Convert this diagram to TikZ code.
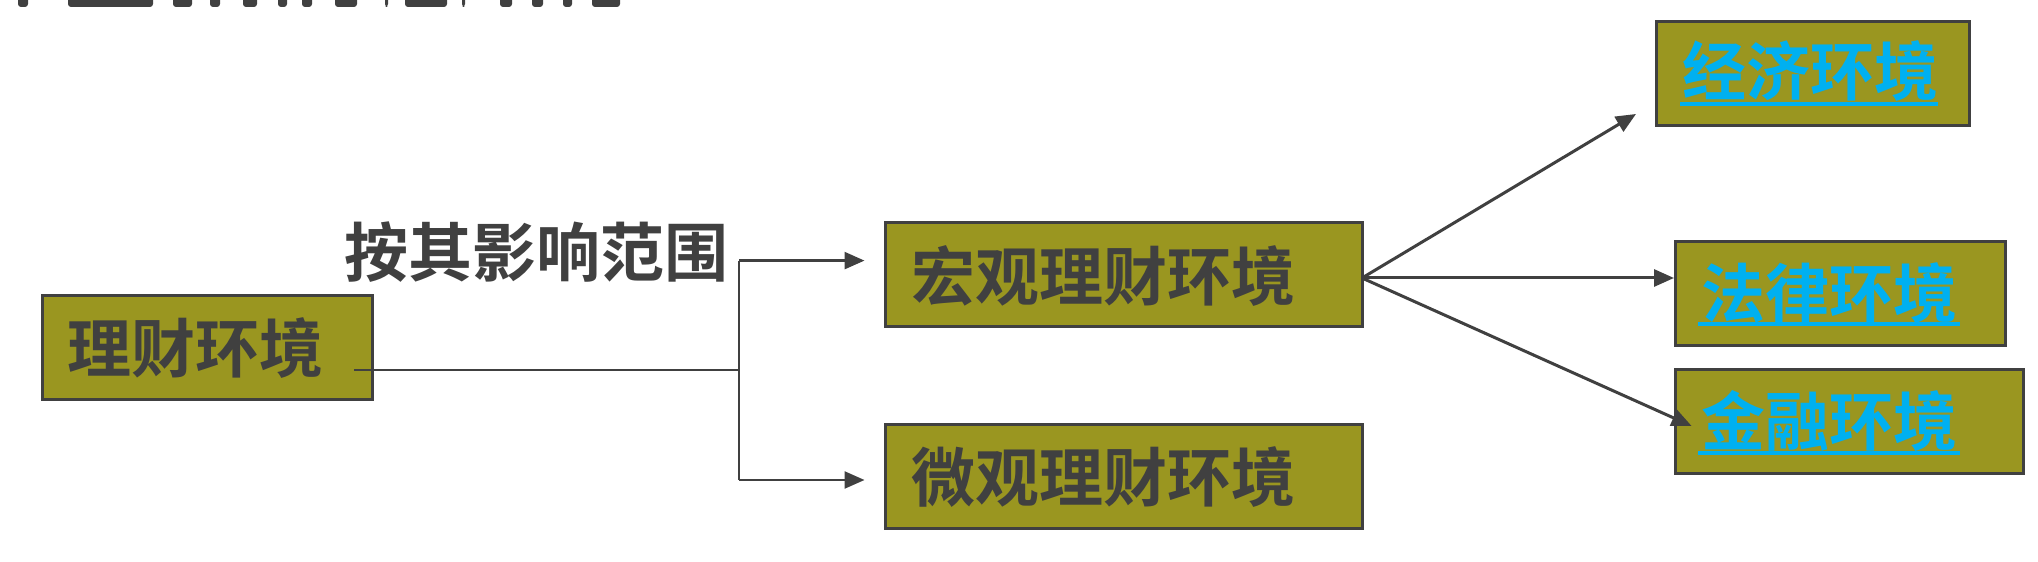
\documentclass[tikz,border=0pt]{standalone}
\usepackage{fontspec}
\newfontfamily\cjk{Noto Sans CJK SC}[BoldFont={Noto Sans CJK SC Bold}]
\usetikzlibrary{arrows.meta}
\definecolor{boxfill}{HTML}{9A9620}
\definecolor{edge}{HTML}{404040}
\definecolor{ink}{HTML}{404040}
\definecolor{link}{HTML}{00B0F0}
\begin{document}
\begin{tikzpicture}[x=1pt,y=1pt,
  box/.style={draw=edge, line width=3pt, fill=boxfill, minimum height=104pt, inner sep=0pt},
  txt/.style={font=\cjk\bfseries\fontsize{64}{64}\selectfont, text=ink, inner sep=0pt},
  linktxt/.style={txt, text=link},
  uline/.style={draw=link, line width=4pt},
  conn/.style={draw=edge, line width=2.5pt},
  arr/.style={draw=edge, line width=3pt, -{Triangle[length=20pt,width=17pt]}},
  frag/.style={fill=ink, rounded corners=3pt},
]
\useasboundingbox (0,0) rectangle (2038,562);
% clipped title fragments
\begin{scope}
\clip (0,0) rectangle (2038,562);
\foreach \a/\b in {18/28,68/153,173/192,210/220,243/257,278/287,302/312,335/357,385/388,405/447,462/465,500/512,532/543,563/572,592/620}
  \fill[frag] (\a,555) rectangle (\b,575);
\end{scope}
% boxes
\node[box, minimum width=330pt] (root) at (207,214) {};
\node[box, minimum width=477pt] (macro) at (1123.5,287) {};
\node[box, minimum width=477pt] (micro) at (1123.5,85) {};
\node[box, minimum width=313pt] (econ) at (1812.5,488.5) {};
\node[box, minimum width=330pt] (law) at (1840,268) {};
\node[box, minimum width=348pt] (fin) at (1849,140) {};
% texts
\node[txt] (rootT) at (195,213.5) {理财环境};
\node[txt] (crit) at (536,309.5) {按其影响范围};
\node[txt] (macroT) at (1103,286) {宏观理财环境};
\node[txt] (microT) at (1103,84.5) {微观理财环境};
\node[linktxt] (econT) at (1810,491) {经济环境};
\node[linktxt] (lawT) at (1829,269) {法律环境};
\node[linktxt] (finT) at (1829,141) {金融环境};
\draw[uline] (1680,458) -- (1938,458);
\draw[uline] (1698,238) -- (1960,238);
\draw[uline] (1698,109) -- (1960,109);
% left connector
\coordinate (s) at (354,192);
\coordinate (j) at (739,192);
\coordinate (jt) at (739,301.4);
\coordinate (jb) at (739,82);
\draw[conn] (s) -- (j);
\draw[conn] (jt) -- (jb);
\draw[arr, line width=2.5pt, shorten >=19pt] (jt) -- (jt -| macro.west);
\draw[arr, line width=2.5pt, shorten >=19pt] (jb) -- (jb -| micro.west);
% right arrows
\coordinate (src) at (1362,284);
\coordinate (econTip) at (1636,448);
\coordinate (lawTip) at (1674,284);
\coordinate (finTip) at (1691.6,136);
\draw[arr] (src) -- (econTip);
\draw[arr] (src) -- (lawTip);
\draw[arr] (src) -- (finTip);
\end{tikzpicture}
\end{document}
